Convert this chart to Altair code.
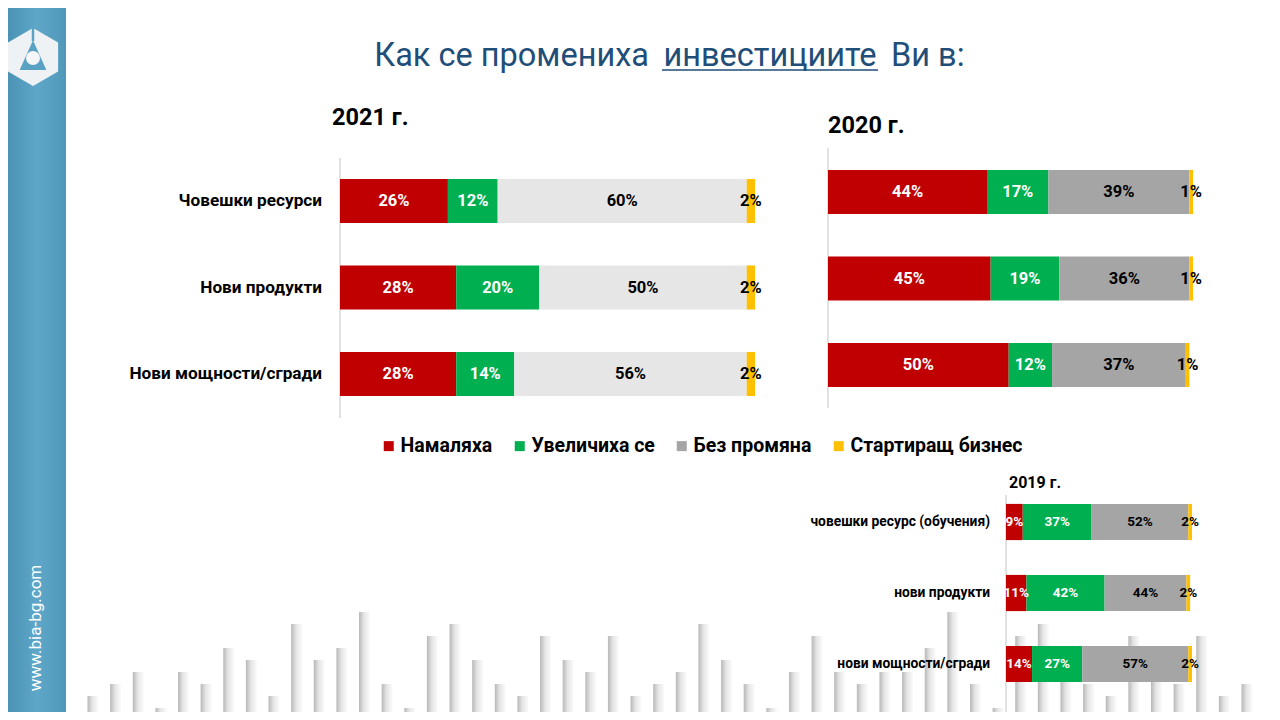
import altair as alt
import pandas as pd

FONT = "Roboto"
TITLE_BLUE = "#1F4E79"

categories = ["Намаляха", "Увеличиха се", "Без промяна", "Стартиращ бизнес"]
colors_main = ["#C00000", "#00B050", "#A5A5A5", "#FFC000"]
colors_2021 = ["#C00000", "#00B050", "#E7E6E6", "#FFC000"]

rows_2021 = ["Човешки ресурси", "Нови продукти", "Нови мощности/сгради"]
dec_2021 = [26, 28, 28]
inc_2021 = [12, 20, 14]
same_2021 = [60, 50, 56]
start_2021 = [2, 2, 2]

dec_2020 = [44, 45, 50]
inc_2020 = [17, 19, 12]
same_2020 = [39, 36, 37]
start_2020 = [1, 1, 1]

rows_2019 = ["човешки ресурс (обучения)", "нови продукти", "нови мощности/сгради"]
dec_2019 = [9, 11, 14]
inc_2019 = [37, 42, 27]
same_2019 = [52, 44, 57]
start_2019 = [2, 2, 2]

# decorative background bars (height levels)
deco_levels = [2, 3, 4, 1, 4, 3, 6, 5, 2, 8, 5, 6, 9, 3, 1, 7, 8,
               5, 3, 2, 7, 5, 4, 7, 2, 3, 4, 8, 5, 3, 1, 4, 7, 4,
               3, 4, 4, 6, 9, 3, 1, 7, 8, 4, 3, 2, 7, 4, 3, 7, 2, 3]


def long_df(rows, series):
    recs = []
    for i, r in enumerate(rows):
        s = 0
        for c, vals in zip(categories, series):
            v = vals[i]
            recs.append(dict(row=r, cat=c, v=v, x0=s, x1=s + v, mid=s + v / 2,
                             lab=f"{v}%",
                             tc="white" if c in categories[:2] else "black"))
            s += v
    return pd.DataFrame(recs)


df21 = long_df(rows_2021, [dec_2021, inc_2021, same_2021, start_2021])
df20 = long_df(rows_2021, [dec_2020, inc_2020, same_2020, start_2020])
df19 = long_df(rows_2019, [dec_2019, inc_2019, same_2019, start_2019])
deco = pd.DataFrame({"i": list(range(len(deco_levels))), "lvl": deco_levels})
one = pd.DataFrame({"a": [0]})


def panel(df, rows, xdom, xrange, yrange, bar_colors, legend, fs, label_x=None, label_fs=None):
    xs = alt.Scale(domain=xdom, range=xrange)
    ys = alt.Scale(type="band", domain=rows, range=yrange, paddingInner=0.49, paddingOuter=0.245)
    bars = alt.Chart(df).mark_bar().encode(
        x=alt.X("x0:Q", scale=xs, axis=None),
        x2="x1:Q",
        y=alt.Y("row:N", scale=ys, axis=None),
        color=alt.Color("cat:N", scale=alt.Scale(domain=categories, range=bar_colors), legend=legend),
    )
    texts = alt.Chart(df).mark_text(font=FONT, fontWeight="bold", fontSize=fs, baseline="middle").encode(
        x=alt.X("mid:Q", scale=xs, axis=None),
        y=alt.Y("row:N", scale=ys, axis=None),
        text="lab:N",
        color=alt.Color("tc:N", scale=None),
    )
    out = [bars, texts]
    if label_x is not None:
        lab_df = pd.DataFrame({"row": rows})
        labs = alt.Chart(lab_df).mark_text(font=FONT, fontWeight="bold", fontSize=label_fs,
                                           align="right", baseline="middle", color="black").encode(
            x=alt.value(label_x),
            y=alt.Y("row:N", scale=ys, axis=None),
            text="row:N",
        )
        out.append(labs)
    return out


def txt(s, x, y, size, weight="normal", color="black", align="left", angle=0, baseline="alphabetic"):
    return alt.Chart(one).mark_text(text=s, font=FONT, fontSize=size, fontWeight=weight, color=color,
                                    align=align, angle=angle, baseline=baseline).encode(
        x=alt.value(x), y=alt.value(y))


def vrule(x, y1, y2, color="#D9D9D9", w=1.5):
    return alt.Chart(one).mark_rule(color=color, strokeWidth=w).encode(
        x=alt.value(x), y=alt.value(y1), y2=alt.value(y2))


sidebar_grad = alt.Gradient(gradient="linear", x1=0, x2=1, y1=0, y2=0,
                            stops=[alt.GradientStop(offset=0, color="#4A93B5"),
                                   alt.GradientStop(offset=0.5, color="#5EA7C8"),
                                   alt.GradientStop(offset=1, color="#4F98BA")])
sidebar = alt.Chart(one).mark_rect(color=sidebar_grad).encode(
    x=alt.value(0), x2=alt.value(58), y=alt.value(0), y2=alt.value(704))

deco_grad = alt.Gradient(gradient="linear", x1=0, x2=1, y1=0, y2=0,
                         stops=[alt.GradientStop(offset=0, color="#A0A0A0"),
                                alt.GradientStop(offset=0.45, color="#DCDCDC"),
                                alt.GradientStop(offset=1, color="#FAFAFA")])
deco_bars = alt.Chart(deco).mark_bar(size=11, color=deco_grad, opacity=0.75).encode(
    x=alt.X("i:Q", scale=alt.Scale(domain=[0, 51], range=[80, 1244]), axis=None),
    y=alt.Y("lvl:Q", scale=alt.Scale(domain=[0, 9], range=[712, 604]), axis=None),
)

hex_path = "M0,-1L0.866,-0.5L0.866,0.5L0,1L-0.866,0.5L-0.866,-0.5Z"
tri_path = "M0,-0.58L0.46,0.45L-0.46,0.45Z"
logo_hex = alt.Chart(one).mark_point(shape=hex_path, size=3364, filled=True, color="#EEF2F4", opacity=1).encode(
    x=alt.value(25), y=alt.value(49))
logo_tri = alt.Chart(one).mark_point(shape=tri_path, size=3364, filled=True, color="#5AA2C3", opacity=1).encode(
    x=alt.value(25), y=alt.value(49))
logo_ball = alt.Chart(one).mark_point(shape="circle", size=196, filled=True, color="#F4F6F7", opacity=1).encode(
    x=alt.value(25), y=alt.value(50))
logo_cut = vrule(25, 20, 33, color="#5AA2C3", w=2.5)

site = txt("www.bia-bg.com", 28, 620, 17, color="white", align="center", angle=270, baseline="middle")

title_a = txt("Как се промениха", 641, 58, 32.5, color=TITLE_BLUE, align="right")
title_b = txt("инвестициите", 762, 58, 32.5, color=TITLE_BLUE, align="center")
title_c = txt("Ви в:", 883, 58, 32.5, color=TITLE_BLUE, align="left")
underline = alt.Chart(one).mark_rule(color=TITLE_BLUE, strokeWidth=1.6).encode(
    x=alt.value(654), x2=alt.value(870), y=alt.value(62))

t21 = txt("2021 г.", 324, 117, 23.5, weight="bold")
t20 = txt("2020 г.", 820, 125, 23.5, weight="bold")
t19 = txt("2019 г.", 1001, 480, 16, weight="bold")

legend = alt.Legend(orient="none", legendX=371, legendY=428, direction="horizontal", title=None,
                    symbolType="square", symbolSize=100, symbolStrokeWidth=0,
                    labelFont=FONT, labelFontWeight="bold", labelFontSize=19.5, labelColor="black",
                    labelLimit=400, columnPadding=17, labelOffset=2, padding=0)

p21 = panel(df21, rows_2021, [0, 100], [332, 747], [149.75, 409.25], colors_2021, None, 16.5,
            label_x=314, label_fs=17.2)
p20 = panel(df20, rows_2021, [0, 101], [820, 1185], [140.75, 400.25], colors_main, legend, 16.5)
p19 = panel(df19, rows_2019, [0, 100], [998, 1184], [478.5, 691.5], colors_main, None, 13.5,
            label_x=982, label_fs=13.8)

layers = [sidebar, deco_bars, logo_hex, logo_tri, logo_ball, logo_cut, site,
          title_a, title_b, title_c, underline, t21, t20, t19,
          vrule(332, 150, 410), vrule(820, 140, 400), vrule(998, 487, 704)] + p21 + p20 + p19

chart = alt.layer(*layers).resolve_scale(
    x="independent", y="independent", color="independent"
).properties(
    width=1264, height=704, padding=0, autosize="none", background="white"
).configure_view(stroke=None)

chart.save("out.html", embed_options={"renderer": "svg", "actions": False})
